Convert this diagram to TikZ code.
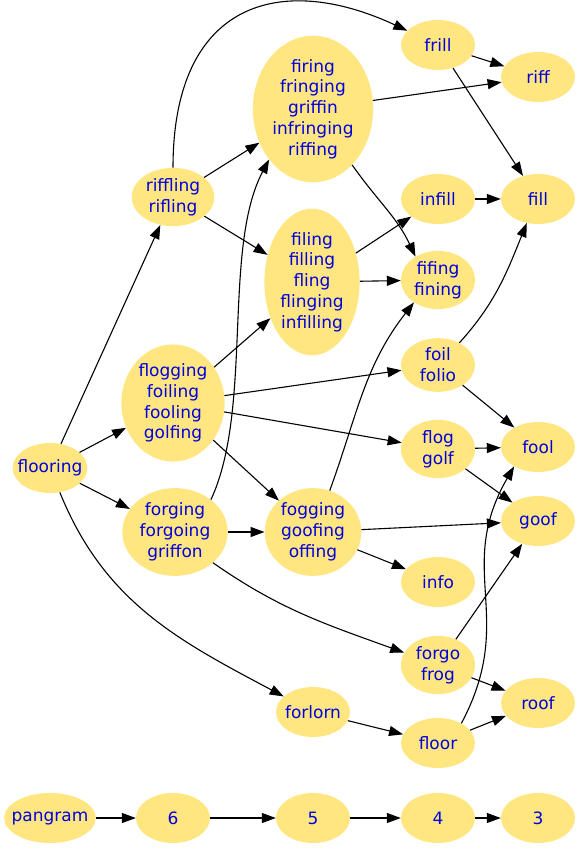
\documentclass[tikz,border=0pt]{standalone}
\usepackage{fontspec}
\setmainfont{DejaVu Sans}
\usepackage{xcolor}
\usepackage{tikz}
\usetikzlibrary{arrows.meta, shapes.geometric}

\definecolor{wordfill}{HTML}{FFE680}
\definecolor{wordink}{HTML}{0000DD}

\begin{document}
\begin{tikzpicture}[
  x=1pt, y=-1pt,
  word/.style={ellipse, fill=wordfill, text=wordink, inner sep=2pt,
               minimum width=74pt, minimum height=50pt, align=center,
               font=\fontsize{17}{20.8}\selectfont},
  long/.style={word, inner xsep=-6pt},
  arr/.style={-{Triangle[length=14pt, width=10pt]}, line width=1.1pt},
]
\useasboundingbox (0,0) rectangle (581,849);

% column 1
\node[long] (flooring) at (50,468) {flooring};
% column 2
\node[word] (riffling) at (173,197) {riffling\\rifling};
\node[word] (flogging) at (173,403) {flogging\\foiling\\fooling\\golfing};
\node[word] (forging)  at (175,532) {forging\\forgoing\\griffon};
% column 3
\node[word] (firing)   at (313,109) {firing\\fringing\\griffin\\infringing\\riffing};
\node[word] (filing)   at (312,282) {filing\\filling\\fling\\flinging\\infilling};
\node[word] (fogging)  at (313,532) {fogging\\goofing\\offing};
\node[long] (forlorn)  at (313,712) {forlorn};
% column 4
\node[word] (frill)    at (438,45)  {frill};
\node[word] (infill)   at (438,199) {infill};
\node[word] (fifing)   at (438,280) {fifing\\fining};
\node[word] (foil)     at (438,365) {foil\\folio};
\node[word] (flog)     at (438,449) {flog\\golf};
\node[word] (info)     at (438,582) {info};
\node[word] (forgo)    at (438,665) {forgo\\frog};
\node[word] (floor)    at (438,743) {floor};
% column 5
\node[word] (riff)     at (538,77)  {riff};
\node[word] (fill)     at (538,199) {fill};
\node[word] (fool)     at (538,447) {fool};
\node[word] (goof)     at (538,521) {goof};
\node[word] (roof)     at (538,703) {roof};
% key row
\node[long] (pangram)  at (50,818)  {pangram};
\node[word] (six)      at (173,818) {6};
\node[word] (five)     at (313,818) {5};
\node[word] (four)     at (438,818) {4};
\node[word] (three)    at (538,818) {3};

\draw[arr] (flooring) -- (riffling);
\draw[arr] (flooring) -- (flogging);
\draw[arr] (flooring) -- (forging);
\draw[arr] (flooring) to[out=-68, in=152] (forlorn);
\draw[arr] (riffling) -- (firing);
\draw[arr] (riffling) -- (filing);
\draw[arr] (riffling) to[out=90, in=155, out distance=166pt, in distance=140pt] (frill);
\draw[arr] (firing) -- (riff);
\draw[arr] (firing.-55) to[out=-55, in=115] (fifing.134);
\draw[arr] (filing) -- (infill);
\draw[arr] (filing) -- (fifing);
\draw[arr] (frill) -- (riff);
\draw[arr] (frill) -- (fill);
\draw[arr] (infill) -- (fill);
\draw[arr] (flogging) -- (filing);
\draw[arr] (flogging) -- (foil);
\draw[arr] (flogging) -- (flog);
\draw[arr] (flogging) -- (fogging);
\draw[arr] (forging.42) to[out=65, in=-118, distance=100pt] (firing.229);
\draw[arr] (forging) -- (fogging);
\draw[arr] (forging.-39) to[out=-35, in=160] (forgo.160);
\draw[arr] (fogging.68) to[out=70, in=232] (fifing.223);
\draw[arr] (fogging) -- (goof);
\draw[arr] (fogging) -- (info);
\draw[arr] (foil.46) to[out=48, in=248] (fill.245);
\draw[arr] (foil) -- (fool);
\draw[arr] (flog) -- (fool);
\draw[arr] (flog) -- (goof);
\draw[arr] (forgo) -- (goof);
\draw[arr] (forgo) -- (roof);
\draw[arr] (forlorn) -- (floor);
\draw[arr] (floor.40) to[out=62, in=-120, distance=120pt] (fool.219);
\draw[arr] (floor) -- (roof);
% key row
\draw[arr] (pangram) -- (six);
\draw[arr] (six) -- (five);
\draw[arr] (five) -- (four);
\draw[arr] (four) -- (three);
\end{tikzpicture}
\end{document}
